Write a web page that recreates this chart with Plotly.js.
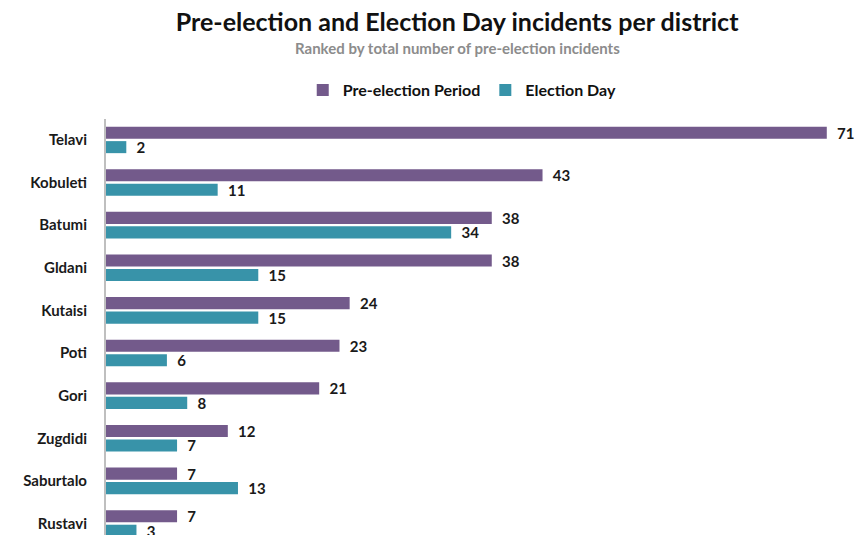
<!DOCTYPE html>
<html><head><meta charset="utf-8">
<script src="https://cdn.plot.ly/plotly-3.0.1.min.js"></script>
<style>html,body{margin:0;padding:0;background:#fff}#chart{width:856px;height:535px}</style>
</head><body><div id="chart"></div>
<script>
const districts = ["Telavi","Kobuleti","Batumi","Gldani","Kutaisi","Poti","Gori","Zugdidi","Saburtalo","Rustavi"];
const preElection = [71,43,38,38,24,23,21,12,7,7];
const electionDay = [2,11,34,15,15,6,8,7,13,3];
const seriesNames = ["Pre-election Period","Election Day"];
const colors = ["#735A8B","#3893A9"];

const FONT = "Lato, 'Open Sans', sans-serif";
const labelFont = {family:FONT, size:15, color:"#1a1a1a", weight:700};
const traces = [preElection, electionDay].map((vals,i)=>({
  type:"bar", orientation:"h", name:seriesNames[i],
  y:districts, x:vals, marker:{color:colors[i]},
  texttemplate:"\u00a0\u00a0%{x}", textposition:"outside", textfont:labelFont,
  constraintext:"none", cliponaxis:false, hoverinfo:"x+y"
}));

const plotTop = 119, plotH = 535 - plotTop;
const pyPaper = px => (535 - px) / plotH;

const layout = {
  width:856, height:535,
  margin:{l:106, r:15, t:plotTop, b:0},
  paper_bgcolor:"#fff", plot_bgcolor:"#fff",
  barmode:"group", bargap:0.32, bargroupgap:0.17,
  title:{text:"<b>Pre-election and Election Day incidents per district</b>",
    font:{family:FONT, size:25, color:"#111"},
    x:0.534, xref:"container", xanchor:"center", y:1-22/535, yref:"container", yanchor:"middle"},
  annotations:[{text:"<b>Ranked by total number of pre-election incidents</b>",
    xref:"paper", yref:"paper", x:(457-106)/(856-106-15), y:pyPaper(48), xanchor:"center", yanchor:"middle",
    showarrow:false, font:{family:FONT, size:15, color:"#8c8c8c"}}],
  showlegend:true,
  legend:{orientation:"h", xref:"container", yref:"container", x:0.54, xanchor:"center", y:1-90/535, yanchor:"middle",
    font:{family:FONT, size:16, color:"#111", weight:700},
    traceorder:"normal", itemwidth:30},
  xaxis:{range:[0,72.4], showgrid:false, zeroline:false, showline:false, showticklabels:false, ticks:""},
  yaxis:{type:"category", range:[9.27,-0.49], showgrid:false, zeroline:false,
    showline:true, linecolor:"#BFBFBF", linewidth:2, ticks:"", ticklabelstandoff:14,
    tickfont:{family:FONT, size:15, color:"#1a1a1a", weight:700}}
};
Plotly.newPlot("chart", traces, layout, {displayModeBar:false, staticPlot:true});
</script></body></html>
